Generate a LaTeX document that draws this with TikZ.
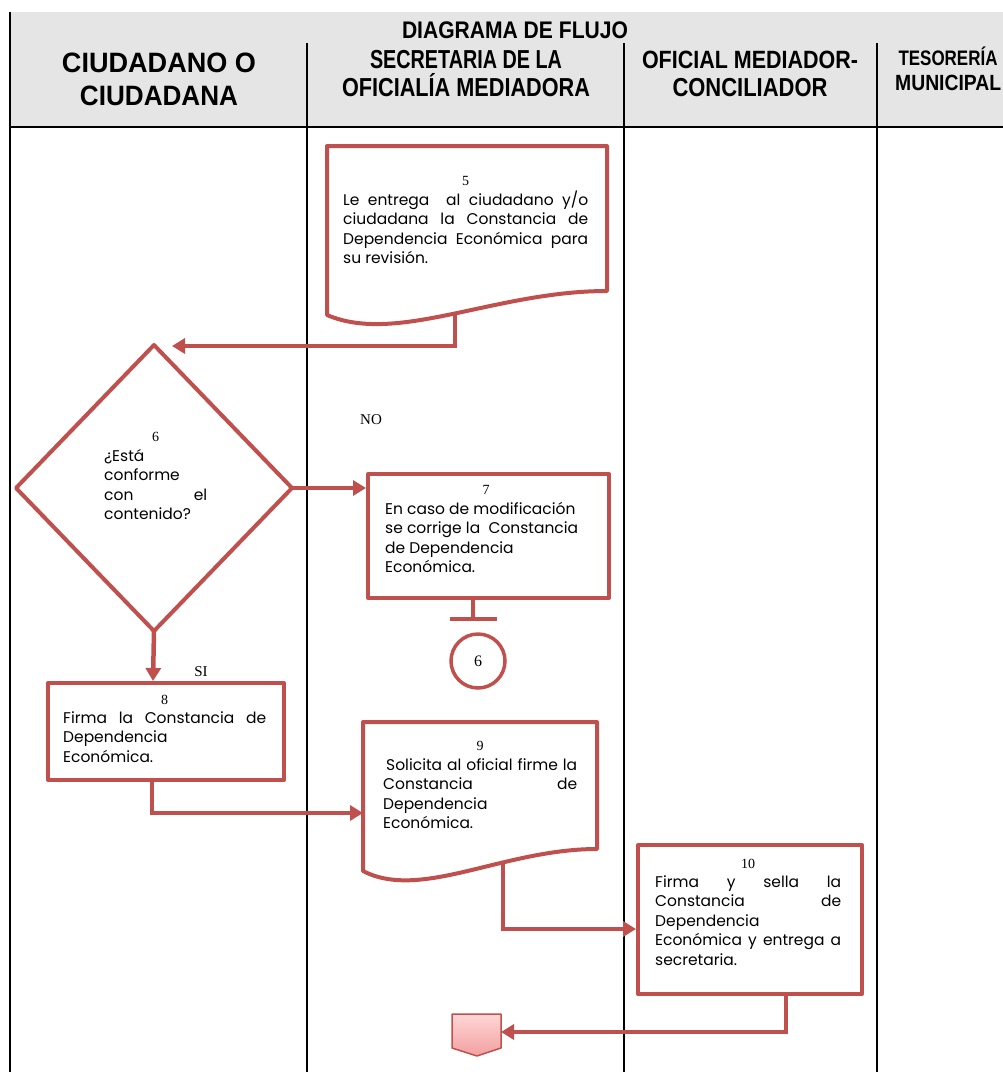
\documentclass[tikz,border=0pt]{standalone}
\usepackage{fontspec}
\usepackage{graphicx}
\setmainfont{Poppins}
\newfontfamily\hdrfont{Liberation Sans}
\newfontfamily\numfont{Liberation Serif}
\usetikzlibrary{arrows.meta}

\definecolor{flowred}{RGB}{192,80,77}
\definecolor{hdrgray}{RGB}{229,229,229}
\definecolor{tagtop}{RGB}{255,214,214}
\definecolor{tagbot}{RGB}{242,160,160}

% justified line of a given width
\newcommand\jl[2]{\makebox[#1][s]{#2}}
% header line squeezed to a given width, keeping its height
\newcommand\hdr[3]{\resizebox{#1}{\height}{\fontsize{#2}{#2}\selectfont #3}}
% centred step number above a text block
\newcommand\stepno[2]{\makebox[#1]{\numfont\fontsize{14}{14}\selectfont #2}}

\tikzset{
  flow/.style={draw=flowred, line width=4pt, fill=white, line join=round},
  conn/.style={draw=flowred, line width=4.5pt, line join=miter,
               -{Triangle[length=13pt,width=15pt]}},
  txt/.style={inner sep=0pt, align=left, anchor=north west,
              font=\fontsize{15.5}{19.4}\selectfont},
  hd/.style={inner sep=0pt, anchor=base, font=\hdrfont\bfseries},
  lbl/.style={inner sep=0pt, anchor=base, font=\numfont\fontsize{15}{15}\selectfont},
}

\begin{document}
\begin{tikzpicture}[x=1pt,y=-1pt]
\useasboundingbox (0,0) rectangle (1003,1072);

% ---- swimlane header ----
\fill[hdrgray] (10,12) rectangle (1003,127);
\draw[line width=1.3pt] (10,12) -- (10,1072);
\foreach \x in {307,624,877} \draw[line width=1.3pt] (\x,43) -- (\x,1072);
\draw[line width=1.6pt] (10,127) -- (1003,127);

\node[hd] (title) at (515,38) {\hdr{226pt}{24}{DIAGRAMA DE FLUJO}};
\node[hd] (lane1a) at (159,72) {\hdr{194pt}{28}{CIUDADANO O}};
\node[hd] (lane1b) at (159,105) {\hdr{158pt}{28}{CIUDADANA}};
\node[hd] (lane2a) at (466,68) {\hdr{192pt}{26}{SECRETARIA DE LA}};
\node[hd] (lane2b) at (466,96) {\hdr{248pt}{26}{OFICIALÍA MEDIADORA}};
\node[hd] (lane3a) at (750,68) {\hdr{216pt}{25}{OFICIAL MEDIADOR-}};
\node[hd] (lane3b) at (750,96) {\hdr{155pt}{26}{CONCILIADOR}};
\node[hd] (lane4a) at (948,65) {\hdr{99pt}{21}{TESORERÍA}};
\node[hd, anchor=base west] (lane4b) at (895,90) {\hdr{106pt}{22}{MUNICIPAL}};

% ---- connection points ----
\coordinate (d6n) at (154,345);
\coordinate (d6e) at (292,488);
\coordinate (d6s) at (154,631);
\coordinate (d6w) at (16,488);
\coordinate (n5out) at (455,300);
\coordinate (d6in) at (172,346);
\coordinate (n7in) at (366,488);
\coordinate (n7out) at (473,596);
\coordinate (n7bar) at (473,621);
\coordinate (n8in) at (153,681);
\coordinate (n8out) at (152,778);
\coordinate (n9in) at (363,813);
\coordinate (n9out) at (503,855);
\coordinate (n10in) at (636,929);
\coordinate (n10out) at (786,992);
\coordinate (tagin) at (501,1032);

% ---- connectors ----
\draw[conn] (n5out) |- (d6in);
\draw[conn] (d6e) -- (n7in);
\draw[draw=flowred, line width=4.5pt, -{Bar[width=47pt,length=4.5pt]}] (n7out) -- (n7bar);
\draw[conn] (d6s) -- (n8in);
\draw[conn] (n8out) |- (n9in);
\draw[conn] (n9out) |- (n10in);
\draw[conn] (n10out) |- (tagin);

% ---- step 5: document ----
\draw[flow] (327,146) -- (607,146) -- (607,291)
  .. controls (495,291) and (397,345) .. (327,315) -- cycle;
\node[txt] (t5) at (343,176.5) {%
  \stepno{245pt}{5}\\
  \jl{245pt}{Le entrega\ \ al ciudadano y/o}\\
  \jl{245pt}{ciudadana la Constancia de}\\
  \jl{245pt}{Dependencia Económica para}\\
  su revisión.};

% ---- step 6: decision ----
\draw[flow] (d6n) -- (d6e) -- (d6s) -- (d6w) -- cycle;
\node[txt] (t6) at (104,432.5) {%
  \stepno{103pt}{6}\\
  ¿Está\\
  conforme\\
  \jl{103pt}{con el}\\
  contenido?};
\node[lbl] (no) at (371,424) {NO};
\node[lbl] (si) at (201,676) {SI};

% ---- step 7 ----
\node[flow, rectangle, inner sep=0pt, minimum width=241pt, minimum height=124pt,
      anchor=north west] (n7) at (366,472) {};
\node[txt] (t7) at (385,485.5) {%
  \stepno{202pt}{7}\\
  En caso de modificación\\
  se corrige la\ \ Constancia\\
  de Dependencia\\
  Económica.};

% ---- connector to step 6 ----
\node[draw=flowred, line width=3.5pt, fill=white, circle, inner sep=0pt,
      minimum size=54pt, font=\numfont\fontsize{16}{16}\selectfont] (c6) at (478,661) {6};

% ---- step 8 ----
\node[flow, rectangle, inner sep=0pt, minimum width=236pt, minimum height=97pt,
      anchor=north west] (n8) at (46,681) {};
\node[txt] (t8) at (63,694.5) {%
  \stepno{203pt}{8}\\
  \jl{203pt}{Firma la Constancia de}\\
  Dependencia\\
  Económica.};

% ---- step 9: document ----
\draw[flow] (363,722) -- (597,722) -- (597,849)
  .. controls (503,849) and (421,901) .. (363,871) -- cycle;
\node[txt] (t9) at (383,741.5) {%
  \stepno{194pt}{9}\\
  \jl{194pt}{\hspace*{3pt}Solicita al oficial firme la}\\
  \jl{194pt}{Constancia de}\\
  Dependencia\\
  Económica.};

% ---- step 10 ----
\node[flow, rectangle, inner sep=0pt, minimum width=224pt, minimum height=149pt,
      anchor=north west] (n10) at (636,843) {};
\node[txt] (t10) at (655,858.5) {%
  \stepno{186pt}{10}\\
  \jl{186pt}{Firma y sella la}\\
  \jl{186pt}{Constancia de}\\
  Dependencia\\
  \jl{186pt}{Económica y entrega a}\\
  secretaria.};

% ---- off-page connector ----
\shade[top color=tagtop, bottom color=tagbot, draw=flowred, line width=1.5pt, line join=round]
  (452,1014) -- (501,1014) -- (501,1048) -- (477,1056) -- (452,1048) -- cycle;

\end{tikzpicture}
\end{document}
